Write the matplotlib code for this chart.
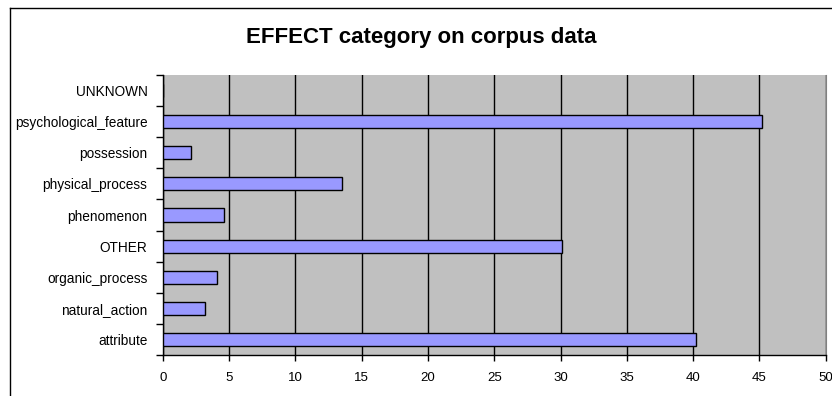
import matplotlib.pyplot as plt
from matplotlib.lines import Line2D
import numpy as np

plt.rcParams['font.family'] = ['Liberation Sans', 'DejaVu Sans']

# categories listed bottom to top
categories = ["attribute", "natural_action", "organic_process", "OTHER",
              "phenomenon", "physical_process", "possession",
              "psychological_feature", "UNKNOWN"]
values = [40.2, 3.2, 4.1, 30.1, 4.6, 13.5, 2.1, 45.2, 0.0]
x_ticks = [0, 5, 10, 15, 20, 25, 30, 35, 40, 45, 50]

fig = plt.figure(figsize=(8.32, 3.96), dpi=100)
fig.patch.set_facecolor("white")

# outer chart frame (left and top edges only visible)
W, H = 832, 396
fig.add_artist(Line2D([9.5 / W, 9.5 / W], [0, 1 - 8 / H], color="black", lw=1.0,
                      transform=fig.transFigure))
fig.add_artist(Line2D([9.5 / W, 1], [1 - 8 / H, 1 - 8 / H], color="black", lw=1.0,
                      transform=fig.transFigure))

ax = fig.add_axes([162.7 / W, 1 - 355 / H, (825.7 - 162.7) / W, (355 - 75) / H])
ax.set_facecolor("#C0C0C0")

y = np.arange(len(categories))
ax.barh(y, values, height=0.42, color="#9999FF", edgecolor="black", linewidth=1.0, zorder=3)

ax.set_xlim(0, 50)
ax.set_ylim(-0.5, len(categories) - 0.5)
ax.set_xticks(x_ticks)
ax.set_xticklabels([str(t) for t in x_ticks], fontsize=9.5)
ax.set_yticks(y)
ax.set_yticklabels(categories, fontsize=9.8)
ax.set_yticks(np.arange(-0.5, len(categories), 1.0), minor=True)
ax.tick_params(axis="y", which="major", length=0, pad=11)
ax.tick_params(axis="y", which="minor", length=5, width=1.0, direction="out")
ax.tick_params(axis="x", length=4, width=1.0, direction="out", pad=8)

ax.xaxis.grid(True, color="black", linewidth=1.0, zorder=1)
ax.set_axisbelow(True)

ax.spines["top"].set_visible(False)
ax.spines["right"].set_color("#808080")
ax.spines["left"].set_linewidth(1.0)
ax.spines["bottom"].set_linewidth(1.0)

fig.text(421 / W, 1 - 37 / H, "EFFECT category on corpus data", ha="center", va="center",
         fontsize=16, fontweight="semibold")

fig.savefig("out.png", dpi=100)
